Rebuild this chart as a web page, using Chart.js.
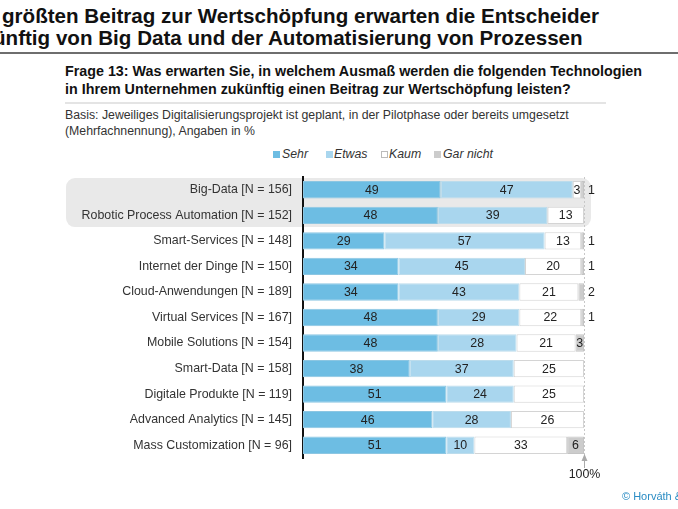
<!DOCTYPE html>
<html>
<head>
<meta charset="utf-8">
<script src="https://cdn.jsdelivr.net/npm/chart.js@4/dist/chart.umd.min.js"></script>
<style>
  html, body { margin:0; padding:0; background:#fff; }
  body { width:678px; height:509px; overflow:hidden; position:relative; font-family:"Liberation Sans", Arial, sans-serif; color:#222; }
  .abs { position:absolute; white-space:nowrap; }
  .title { font-weight:bold; font-size:20.6px; color:#111; }
  .pre { position:absolute; right:100%; top:0; }
  .q { font-weight:bold; font-size:14.3px; color:#111; left:65px; }
  .basis { font-size:12.3px; color:#333; left:65px; }
  .leg { font-style:italic; font-size:12.3px; color:#333; top:147px; }
  .box { position:absolute; top:151px; width:7px; height:7px; }
  #wrap { position:absolute; left:0; top:0; width:678px; height:509px; }
</style>
</head>
<body>
<div class="abs title" style="left:2px; top:4px;"><span class="pre">Den&nbsp;</span>größten Beitrag zur Wertschöpfung erwarten die Entscheider</div>
<div class="abs title" style="left:-7px; top:26px;"><span class="pre">zuk</span>ünftig von Big Data und der Automatisierung von Prozessen</div>
<div class="abs" style="left:0; top:52px; width:678px; height:2px; background:#6e6e6e;"></div>

<div class="abs q" style="top:63px;">Frage 13: Was erwarten Sie, in welchem Ausmaß werden die folgenden Technologien</div>
<div class="abs q" style="top:81px;">in Ihrem Unternehmen zukünftig einen Beitrag zur Wertschöpfung leisten?</div>
<div class="abs" style="left:65px; top:102px; width:541px; height:2px; background:#e4e4e4;"></div>
<div class="abs basis" style="top:108px;">Basis: Jeweiliges Digitalisierungsprojekt ist geplant, in der Pilotphase oder bereits umgesetzt</div>
<div class="abs basis" style="top:124px;">(Mehrfachnennung), Angaben in %</div>

<div id="legend"></div>

<div id="wrap"><canvas id="c" width="678" height="509"></canvas></div>

<div class="abs" style="left:622px; top:490px; font-size:11px; color:#2a8cc4;">© Horváth &amp; Partners</div>

<script>
const categories = [
  'Big-Data [N = 156]',
  'Robotic Process Automation [N = 152]',
  'Smart-Services [N = 148]',
  'Internet der Dinge [N = 150]',
  'Cloud-Anwendungen [N = 189]',
  'Virtual Services [N = 167]',
  'Mobile Solutions [N = 154]',
  'Smart-Data [N = 158]',
  'Digitale Produkte [N = 119]',
  'Advanced Analytics [N = 145]',
  'Mass Customization [N = 96]'
];
const seriesNames = ['Sehr', 'Etwas', 'Kaum', 'Gar nicht'];
const sehr     = [49, 48, 29, 34, 34, 48, 48, 38, 51, 46, 51];
const etwas    = [47, 39, 57, 45, 43, 29, 28, 37, 24, 28, 10];
const kaum     = [ 3, 13, 13, 20, 21, 22, 21, 25, 25, 26, 33];
const garNicht = [ 1,  0,  1,  1,  2,  1,  3,  0,  0,  0,  6];
const highlighted = [0, 1];
const axisTotalLabel = '100%';

const fills = ['#6dbde3', '#a9d6ee', '#ffffff', '#cccccc'];
const borders = ['#8cc6e2', '#bcdcec', '#d4d4d4', '#c4c4c4'];

// HTML legend
(function(){
  const lg = document.getElementById('legend');
  const boxX = [273, 326, 381, 434];
  const txtX = [282, 334, 389, 443];
  seriesNames.forEach((n, i) => {
    const b = document.createElement('div');
    b.className = 'box';
    b.style.left = boxX[i] + 'px';
    b.style.background = fills[i];
    b.style.boxSizing = 'border-box';
    b.style.border = '1px solid ' + (i === 2 ? '#bbb' : fills[i]);
    lg.appendChild(b);
    const t = document.createElement('div');
    t.className = 'abs leg';
    t.style.left = txtX[i] + 'px';
    t.textContent = n;
    lg.appendChild(t);
  });
})();

const highlightPlugin = {
  id: 'highlight',
  beforeDraw(chart) {
    const {ctx} = chart;
    const y = chart.scales.y, x = chart.scales.x;
    const step = (y.getPixelForValue(1) - y.getPixelForValue(0));
    const top = y.getPixelForValue(highlighted[0]) - step / 2 + 1;
    const bot = y.getPixelForValue(highlighted[highlighted.length - 1]) + step / 2 - 1;
    const left = 66, right = x.getPixelForValue(100) + 7;
    ctx.save();
    ctx.fillStyle = '#e9e9e9';
    ctx.beginPath();
    ctx.roundRect(left, top, right - left, bot - top, 9);
    ctx.fill();
    ctx.restore();
  },
  beforeDatasetsDraw(chart) {
    const {ctx, chartArea} = chart;
    const x = chart.scales.x.getPixelForValue(100) + 0.5;
    ctx.save();
    ctx.strokeStyle = '#c8c8c8';
    ctx.lineWidth = 1;
    ctx.setLineDash([2, 2]);
    ctx.beginPath();
    ctx.moveTo(x, chartArea.top);
    ctx.lineTo(x, chartArea.bottom + 2);
    ctx.stroke();
    ctx.restore();
  },
  afterDatasetsDraw(chart) {
    const {ctx} = chart;
    ctx.save();
    ctx.font = '12.4px "Liberation Sans", Arial, sans-serif';
    ctx.fillStyle = '#222';
    ctx.textBaseline = 'middle';
    chart.data.datasets.forEach((ds, di) => {
      const meta = chart.getDatasetMeta(di);
      meta.data.forEach((el, i) => {
        const v = ds.data[i];
        if (!v) return;
        const {x, base, y} = el.getProps(['x', 'base', 'y'], true);
        if (v >= 3) {
          ctx.textAlign = 'center';
          ctx.fillText(String(v), (x + base) / 2, y + 0.5);
        } else {
          ctx.textAlign = 'left';
          ctx.fillText(String(v), chart.scales.x.getPixelForValue(100) + 4, y + 0.5);
        }
      });
    });
    // arrow + 100%
    const xp = chart.scales.x.getPixelForValue(100) + 0.5;
    const yb = chart.chartArea.bottom;
    ctx.fillStyle = '#aaaaaa';
    ctx.strokeStyle = '#aaaaaa';
    ctx.beginPath();
    ctx.moveTo(xp, yb - 4);
    ctx.lineTo(xp - 3, yb + 3);
    ctx.lineTo(xp + 3, yb + 3);
    ctx.closePath();
    ctx.fill();
    ctx.setLineDash([]);
    ctx.lineWidth = 1;
    ctx.beginPath();
    ctx.moveTo(xp, yb + 2);
    ctx.lineTo(xp, yb + 10);
    ctx.stroke();
    ctx.fillStyle = '#222';
    ctx.textAlign = 'center';
    ctx.fillText(axisTotalLabel, xp, yb + 17);
    ctx.restore();
  }
};

const seriesData = [sehr, etwas, kaum, garNicht];
new Chart(document.getElementById('c'), {
  type: 'bar',
  data: {
    labels: categories,
    datasets: seriesNames.map((n, i) => ({
      label: n,
      data: seriesData[i],
      backgroundColor: fills[i],
      borderColor: borders[i],
      borderWidth: ctx => (ctx.raw ? 1 : 0),
      borderSkipped: false,
      categoryPercentage: 1,
      barPercentage: 0.68
    }))
  },
  options: {
    indexAxis: 'y',
    responsive: false,
    animation: false,
    devicePixelRatio: 1,
    layout: { padding: { left: 0, right: 94, top: 177, bottom: 51 } },
    plugins: { legend: { display: false }, tooltip: { enabled: false } },
    scales: {
      x: { stacked: true, min: 0, max: 100, display: false },
      y: {
        stacked: true,
        grid: { display: false, drawTicks: false },
        border: { display: true, color: '#111', width: 2 },
        ticks: { color: '#333', font: { family: '"Liberation Sans", Arial, sans-serif', size: 12.4 }, padding: 11, autoSkip: false },
        afterFit(axis) { axis.width = 303; }
      }
    }
  },
  plugins: [highlightPlugin]
});
</script>
</body>
</html>
